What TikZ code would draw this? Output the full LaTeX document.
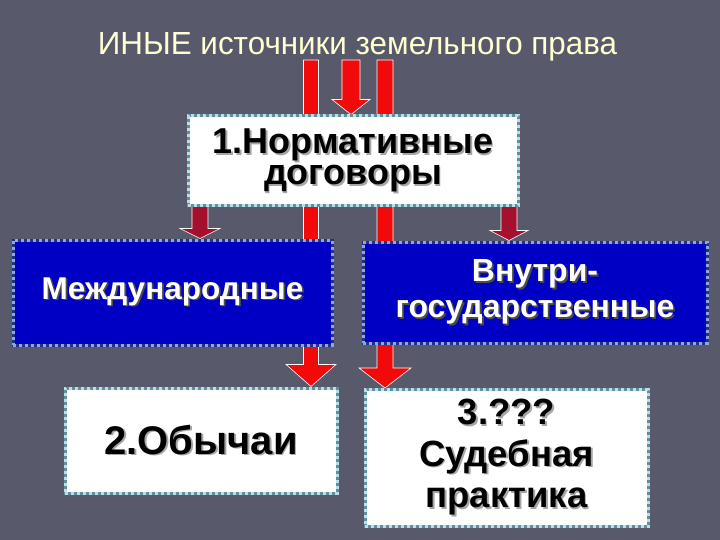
\documentclass[tikz,border=0pt]{standalone}
\usepackage{fontspec}
\setmainfont{Liberation Sans}
\usetikzlibrary{calc}
\pgfdeclarelayer{bg}
\pgfsetlayers{bg,main}
\definecolor{bgc}{HTML}{585A6B}
\definecolor{titlec}{HTML}{FFFFD2}
\definecolor{barred}{HTML}{F20A0A}
\definecolor{darkred}{HTML}{A5102E}
\definecolor{boxblue}{HTML}{0000C4}
\definecolor{wedge}{HTML}{5F8F9C}
\definecolor{wdot}{HTML}{BFDDE6}
\definecolor{bedge}{HTML}{23308A}
\definecolor{bdot}{HTML}{8FA9D6}
\newcommand\shd[2][gray!70]{\rlap{\kern1.8pt\raisebox{-1.8pt}{\textcolor{#1}{#2}}}#2}
% #1 start, #2 tip, #3 shaft half width, #4 head half width, #5 head length, #6 style
\newcommand\barrow[6]{%
  \path[#6] let \p1=(#1), \p2=(#2) in
    (\x1-#3pt,\y1) -- (\x1-#3pt,\y2+#5pt) -- (\x1-#4pt,\y2+#5pt) -- (\x1,\y2)
    -- (\x1+#4pt,\y2+#5pt) -- (\x1+#3pt,\y2+#5pt) -- (\x1+#3pt,\y1) -- cycle;}
\begin{document}
\begin{tikzpicture}[x=1pt,y=-1pt,
  wbox/.style={fill=white, draw=wedge, line width=3pt,
    postaction={draw=wdot, line width=3pt, dash pattern=on 3pt off 3pt},
    inner sep=0pt, align=center, text=black},
  bbox/.style={fill=boxblue, draw=bedge, line width=3pt,
    postaction={draw=bdot, line width=3pt, dash pattern=on 3pt off 3pt},
    inner sep=0pt, align=center, text=white},
  redarrow/.style={fill=barred, draw=white, line width=0.6pt},
  darkarrow/.style={fill=darkred, draw=white, line width=0.6pt}]
\useasboundingbox (0,0) rectangle (720,540);

\node[anchor=base, text=titlec, inner sep=0pt] (title) at (357.5,55)
  {\resizebox{519pt}{22pt}{ИНЫЕ источники земельного права}};

\node[wbox, minimum width=330pt, minimum height=90pt,
  font={\bfseries\fontsize{36}{31}\selectfont}] (top) at (353,161)
  {\shd{1.Нормативные}\\\shd{договоры}};

\node[bbox, minimum width=319pt, minimum height=105pt,
  font={\bfseries\fontsize{31.5}{34}\selectfont}] (intl) at (172.5,292.5)
  {\shd[black!70]{Международные}};

\node[bbox, minimum width=344pt, minimum height=101pt,
  font={\bfseries\fontsize{32}{36}\selectfont}] (dom) at (535,292.5)
  {\shd[black!70]{Внутри-}\\\shd[black!70]{государственные}};

\node[wbox, minimum width=272pt, minimum height=105pt,
  font={\bfseries\fontsize{40}{44}\selectfont}] (cust) at (201,440.5)
  {\shd{2.Обычаи}};

\node[wbox, minimum width=283pt, minimum height=137pt,
  font={\bfseries\fontsize{36.5}{41.5}\selectfont}] (court) at (506.5,458)
  {\shd{3.???}\\\shd{Судебная}\\\shd{практика}};

\coordinate (srcL) at (311,60);
\coordinate (srcC) at (351,60);
\coordinate (srcR) at (385,60);
\coordinate (dkL) at (200,205);
\coordinate (dkR) at (509,205);

\begin{pgfonlayer}{bg}
  \fill[bgc] (0,0) rectangle (720,540);
  \barrow{srcL}{srcL |- cust.north}{7.5}{25}{22}{redarrow}
  \barrow{srcR}{srcR |- court.north}{8}{26}{20}{redarrow}
  \barrow{srcC}{srcC |- top.north}{9}{19}{15}{redarrow}
  \barrow{dkL}{dkL |- intl.north}{8}{20}{10}{darkarrow}
  \barrow{dkR}{dkR |- dom.north}{8}{19}{10}{darkarrow}
\end{pgfonlayer}
\end{tikzpicture}
\end{document}
